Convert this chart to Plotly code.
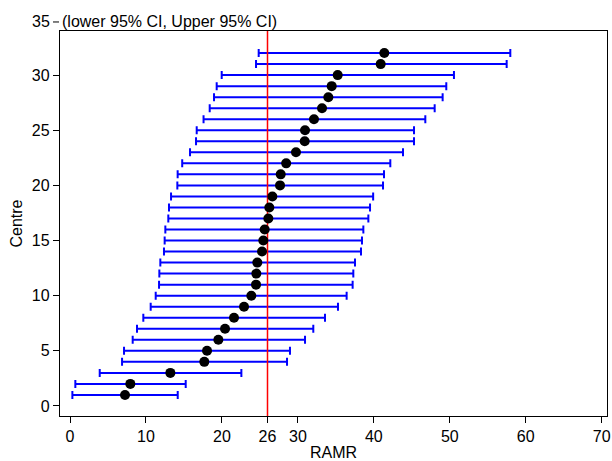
import plotly.graph_objects as go

centre = list(range(1, 33))
ramr = [7.24, 7.94, 13.21, 17.68, 18.04, 19.53, 20.41, 21.59, 22.91, 23.87,
        24.49, 24.53, 24.66, 25.28, 25.45, 25.63, 26.11, 26.24, 26.64, 27.65,
        27.74, 28.46, 29.75, 30.90, 30.94, 32.12, 33.18, 34.01, 34.45, 35.24,
        40.90, 41.38]
lower = [0.31, 0.70, 3.91, 6.85, 7.11, 8.25, 8.82, 9.65, 10.62, 11.28,
         11.72, 11.76, 11.89, 12.37, 12.46, 12.55, 12.94, 13.03, 13.30, 14.13,
         14.17, 14.77, 15.80, 16.59, 16.68, 17.58, 18.39, 18.96, 19.31, 19.97,
         24.49, 24.84]
upper = [14.18, 15.23, 22.56, 28.57, 28.96, 30.94, 32.03, 33.57, 35.28, 36.42,
         37.21, 37.30, 37.52, 38.31, 38.44, 38.62, 39.28, 39.50, 39.91, 41.21,
         41.34, 42.17, 43.84, 45.29, 45.29, 46.78, 48.01, 49.06, 49.54, 50.55,
         57.49, 57.97]
reference = 26
x_ticks = [0, 10, 20, 26, 30, 40, 50, 60, 70]
y_ticks = [0, 5, 10, 15, 20, 25, 30]
y_range = [-0.91, 34.0]
x_range = [-1.32, 70.7]

font = "Liberation Sans, Arial, sans-serif"

fig = go.Figure()
# CI bars
fig.add_trace(go.Scatter(
    x=ramr, y=centre, mode="markers",
    marker=dict(size=1, color="rgba(0,0,0,0)"),
    error_x=dict(type="data", symmetric=False,
                 array=[u - r for u, r in zip(upper, ramr)],
                 arrayminus=[r - l for r, l in zip(ramr, lower)],
                 color="#0000FF", thickness=2, width=4),
    showlegend=False, hoverinfo="skip"))
# reference line
fig.add_trace(go.Scatter(
    x=[reference, reference], y=y_range, mode="lines",
    line=dict(color="#FF0000", width=1.5), showlegend=False, hoverinfo="skip"))
# points
fig.add_trace(go.Scatter(
    x=ramr, y=centre, mode="markers",
    marker=dict(size=10, color="black"), showlegend=False))

fig.update_layout(
    width=612, height=461,
    margin=dict(l=60, r=5, t=31, b=45, autoexpand=False),
    plot_bgcolor="white", paper_bgcolor="white",
    font=dict(family=font, size=16, color="black"),
    xaxis=dict(range=x_range, tickvals=x_ticks, ticks="outside", ticklen=6,
               tickwidth=1, tickcolor="black", showline=True, linecolor="black",
               linewidth=1.3, mirror=True, showgrid=False, zeroline=False,
               tickfont=dict(size=16),
               title=dict(text="RAMR", standoff=2, font=dict(size=16))),
    yaxis=dict(range=y_range, tickvals=y_ticks, ticks="outside", ticklen=6,
               tickwidth=1, tickcolor="black", showline=True, linecolor="black",
               linewidth=1.3, mirror=True, showgrid=False, zeroline=False,
               tickfont=dict(size=16),
               title=dict(text="Centre", standoff=5, font=dict(size=16))),
)

# the "35" tick sitting above the frame, plus the note
y35 = (35 - y_range[0]) / (y_range[1] - y_range[0])
fig.add_annotation(x=0, y=y35, xref="paper", yref="paper", text="35",
                   showarrow=False, xanchor="right", yanchor="middle",
                   xshift=-8, yshift=-2, font=dict(size=16))
fig.add_shape(type="line", xref="paper", yref="paper",
              x0=-7 / 547, x1=-1 / 547, y0=y35 - 2 / 385, y1=y35 - 2 / 385,
              line=dict(color="black", width=1))
fig.add_annotation(x=0, y=y35, xref="paper", yref="paper",
                   text="(lower 95% CI, Upper 95% CI)",
                   showarrow=False, xanchor="left", yanchor="middle",
                   xshift=0, yshift=-2, font=dict(size=16))

fig.write_html("out.html",
               config={"displayModeBar": False},
               post_script="document.body.style.margin='0';"
                           "document.body.style.overflow='hidden';")
